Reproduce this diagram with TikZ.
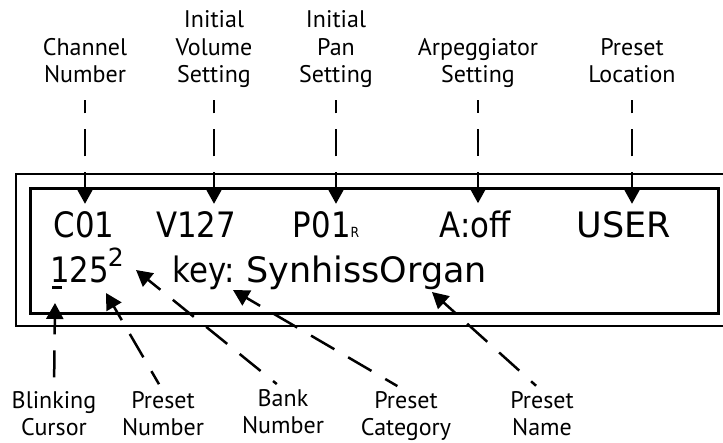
\documentclass[tikz,border=0pt]{standalone}
\usepackage{fontspec}
\setmainfont{PT Sans}
\newfontfamily\lcdfont[FakeStretch=0.88]{DejaVu Sans}
\newfontfamily\lcdwide{DejaVu Sans}
\usetikzlibrary{arrows.meta}

\begin{document}
\begin{tikzpicture}[x=1pt,y=-1pt,
  lbl/.style={align=center,anchor=south,inner sep=0pt,text depth=0pt,font=\fontsize{24}{27.5}\selectfont},
  lcd/.style={anchor=base,inner xsep=0pt,inner ysep=7pt,font=\lcdfont\fontsize{35}{35}\selectfont},
  pointer/.style={arrows={Triangle[length=16pt,width=17pt]-},line width=2.5pt,dash pattern=on 27pt off 16pt,dash phase=11pt}]
\useasboundingbox (0,0) rectangle (723,442);
% display frame
\draw[line width=2.5pt] (726,174) -| (16,326) -- (726,326);
\draw[line width=3pt] (30,188) rectangle (718,313);
% top labels
\node[lbl] (chan) at (85,83) {Channel\\Number};
\node[lbl] (vol) at (214,83) {Initial\\Volume\\Setting};
\node[lbl] (pan) at (336,83) {Initial\\Pan\\Setting};
\node[lbl] (arp) at (478,83) {Arpeggiator\\Setting};
\node[lbl] (loc) at (632,83) {Preset\\Location};
% display text
\node[lcd] (c01) at (84,237) {C01};
\node[lcd] (v127) at (196,237) {V127};
\node[lcd] (p01) at (326,237) {P01{\fontsize{14}{14}\selectfont R}};
\node[lcd] (aoff) at (475,237) {A:off};
\node[lcd,font=\lcdwide\fontsize{35}{35}\selectfont] (user) at (624,237) {USER};
\node[lcd,anchor=base west,inner sep=0pt] (num) at (50,282) {125\kern-1pt\raisebox{16pt}{\lcdwide\fontsize{25}{25}\selectfont 2}};
\node[lcd] (cat) at (204,282) {key:};
\node[lcd,anchor=base west,inner xsep=0pt,font=\lcdwide\fontsize{35}{35}\selectfont] (pname) at (246,282) {SynhissOrgan};
\draw[line width=3pt] (52,287.5) -- (62,287.5);
% bottom labels
\node[lbl] (blink) at (54,436) {Blinking\\Cursor};
\node[lbl] (pnum) at (163,436) {Preset\\Number};
\node[lbl] (banklab) at (283,434) {Bank\\Number};
\node[lbl] (catlab) at (406,436) {Preset\\Category};
\node[lbl] (namelab) at (542,436) {Preset\\Name};
\coordinate (curtip) at (55,303);
\coordinate (numtip) at (106,293);
\coordinate (banktip) at (136,270);
\coordinate (cattip) at (233,290);
\coordinate (nametip) at (432,292);
% arrows
\draw[pointer,shorten >=17pt] (c01.north -| chan.south) -- (chan.south);
\draw[pointer,shorten >=17pt] (v127.north -| vol.south) -- (vol.south);
\draw[pointer,shorten >=17pt] (p01.north -| pan.south) -- (pan.south);
\draw[pointer,shorten >=17pt] (aoff.north -| arp.south) -- (arp.south);
\draw[pointer,shorten >=17pt] (user.north -| loc.south) -- (loc.south);
\draw[pointer,shorten >=5pt] (curtip) -- (blink.north);
\draw[pointer,shorten >=8pt] (numtip) -- (pnum.north);
\draw[pointer,shorten >=8pt] (banktip) -- (banklab.north);
\draw[pointer,shorten >=10pt] (cattip) -- (catlab.north);
\draw[pointer,shorten >=8pt] (nametip) -- (namelab.north);
\end{tikzpicture}
\end{document}
